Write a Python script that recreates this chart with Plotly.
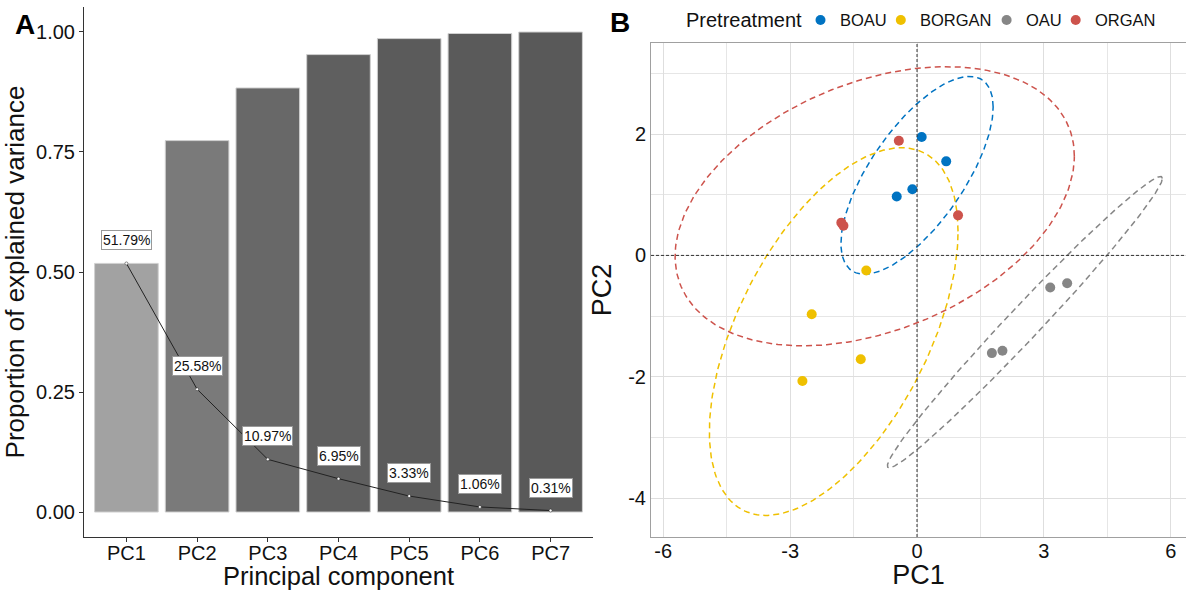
import numpy as np
import plotly.graph_objects as go

# ---------------- Panel A data ----------------
components = ["PC1", "PC2", "PC3", "PC4", "PC5", "PC6", "PC7"]
explained = [0.5179, 0.2558, 0.1097, 0.0695, 0.0333, 0.0106, 0.0031]
explained_labels = ["51.79%", "25.58%", "10.97%", "6.95%", "3.33%", "1.06%", "0.31%"]
cumulative = list(np.cumsum(explained))
bar_colors = ["#a2a2a2", "#7a7a7a", "#686868", "#5f5f5f", "#5b5b5b", "#5a5a5a", "#595959"]

# ---------------- Panel B data ----------------
groups = ["BOAU", "BORGAN", "OAU", "ORGAN"]
group_colors = ["#0073C2", "#EFC000", "#868686", "#CD534C"]
boau_pc1 = [0.11, 0.69, -0.11, -0.48]
boau_pc2 = [1.95, 1.55, 1.09, 0.97]
borgan_pc1 = [-1.20, -2.49, -1.33, -2.71]
borgan_pc2 = [-0.25, -0.97, -1.71, -2.07]
oau_pc1 = [3.15, 3.55, 1.77, 2.02]
oau_pc2 = [-0.53, -0.46, -1.61, -1.57]
organ_pc1 = [-0.43, 0.97, -1.79, -1.74]
organ_pc2 = [1.89, 0.66, 0.54, 0.49]

# ellipse estimates: centre x, centre y, half-width x, half-height y, correlation
boau_ellipse = [0.00, 1.32, 1.80, 1.63, 0.69]
borgan_ellipse = [-1.97, -1.255, 2.94, 3.03, 0.545]
oau_ellipse = [2.55, -1.10, 3.25, 2.40, 0.9866]
organ_ellipse = [-1.00, 0.81, 4.72, 2.30, 0.359]

pc1_list = [boau_pc1, borgan_pc1, oau_pc1, organ_pc1]
pc2_list = [boau_pc2, borgan_pc2, oau_pc2, organ_pc2]
ellipses = [boau_ellipse, borgan_ellipse, oau_ellipse, organ_ellipse]

# legend layout (pixel positions of the reference legend)
legend_title = "Pretreatment"
legend_dot_x = [820.5, 900.8, 1006.6, 1075.7]
legend_text_x = [838.4, 918.4, 1024.0, 1093.3]
legend_y = 20

FONT = "Liberation Sans, Arial, sans-serif"
W, H = 1186, 590
fig = go.Figure()

# Panel A bars
fig.add_trace(go.Bar(
    x=components, y=cumulative, marker=dict(color=bar_colors, line=dict(color="#d0d0d0", width=1)),
    xaxis="x", yaxis="y", showlegend=False, hoverinfo="x+y"))
fig.add_trace(go.Scatter(
    x=components, y=explained, mode="lines+markers",
    line=dict(color="#222", width=1),
    marker=dict(size=3, color="white", line=dict(color="#222", width=0.5)),
    xaxis="x", yaxis="y", showlegend=False))
for c, v, lab in zip(components, explained, explained_labels):
    fig.add_annotation(x=c, y=v + 0.048, xref="x", yref="y", text=lab, showarrow=False,
                       font=dict(family=FONT, size=14, color="#111"),
                       bgcolor="white", bordercolor="#999", borderwidth=1, borderpad=1)

# Panel B ellipses
t = np.linspace(0, 2 * np.pi, 240)
for g, col, e in zip(groups, group_colors, ellipses):
    cx, cy, wx, wy, rho = e
    ex = cx + wx * np.cos(t)
    ey = cy + wy * (rho * np.cos(t) + np.sqrt(1 - rho ** 2) * np.sin(t))
    fig.add_trace(go.Scatter(x=ex, y=ey, mode="lines", line=dict(color=col, width=1.5, dash="6px,4px"),
                             xaxis="x2", yaxis="y2", showlegend=False, legendgroup=g, hoverinfo="skip"))

# Panel B points
for g, col, px, py in zip(groups, group_colors, pc1_list, pc2_list):
    fig.add_trace(go.Scatter(x=px, y=py, mode="markers", name=g, legendgroup=g,
                             marker=dict(color=col, size=10), showlegend=False,
                             xaxis="x2", yaxis="y2"))

# legend (drawn in an overlay pixel-coordinate axis)
fig.add_trace(go.Scatter(x=legend_dot_x, y=[legend_y] * 4, mode="markers",
                         marker=dict(color=group_colors, size=10), xaxis="x3", yaxis="y3",
                         showlegend=False, hoverinfo="skip"))
fig.add_annotation(x=684, y=legend_y, xref="x3", yref="y3", text=legend_title, showarrow=False,
                   xanchor="left", yanchor="middle", font=dict(family=FONT, size=20, color="#111"))
for g, tx in zip(groups, legend_text_x):
    fig.add_annotation(x=tx, y=legend_y, xref="x3", yref="y3", text=g, showarrow=False,
                       xanchor="left", yanchor="middle", font=dict(family=FONT, size=16.5, color="#111"))

# zero reference lines
fig.add_shape(type="line", xref="x2", yref="paper", x0=0, x1=0, y0=53 / H, y1=547 / H,
              line=dict(color="#333", width=1, dash="3px,2px"))
fig.add_shape(type="line", xref="paper", yref="y2", x0=651 / W, x1=1.0, y0=0, y1=0,
              line=dict(color="#333", width=1, dash="3px,2px"))

# Panel letters
fig.add_annotation(x=25, y=24, xref="x3", yref="y3", text="<b>A</b>",
                   showarrow=False, font=dict(family=FONT, size=28, color="black"))
fig.add_annotation(x=620, y=22, xref="x3", yref="y3", text="<b>B</b>",
                   showarrow=False, font=dict(family=FONT, size=28, color="black"))

tickfont = dict(family=FONT, size=20, color="#111")
titlefont = dict(family=FONT, size=25.5, color="#111")

fig.update_layout(
    width=W, height=H, margin=dict(l=0, r=0, t=0, b=0),
    paper_bgcolor="white", plot_bgcolor="rgba(0,0,0,0)",
    bargap=0.1,
    xaxis=dict(domain=[84 / W, 593 / W], anchor="y", type="category", range=[-0.6, 6.6],
               showline=True, linecolor="#333", linewidth=1, ticks="outside", ticklen=4,
               tickcolor="#333", showgrid=False, tickfont=tickfont, ticklabelstandoff=-6,
               title=dict(text="Principal component", font=titlefont, standoff=2)),
    yaxis=dict(domain=[53 / H, 583 / H], anchor="x", range=[-0.052, 1.052],
               tickvals=[0, 0.25, 0.5, 0.75, 1.0], ticktext=["0.00", "0.25", "0.50", "0.75", "1.00"],
               showline=True, linecolor="#333", linewidth=1, ticks="outside", ticklen=4,
               tickcolor="#333", showgrid=False, zeroline=False, tickfont=tickfont,
               title=dict(text="Proportion of explained variance", font=dict(family=FONT, size=26, color="#111"),
                          standoff=4)),
    xaxis2=dict(domain=[651 / W, 1.0], anchor="y2", range=[-6.29, 6.36],
                tickvals=[-6, -3, 0, 3, 6], ticktext=["-6", "-3", "0", "3", "6"],
                showline=True, mirror=True, linecolor="#a0a0a0", linewidth=1,
                showgrid=True, gridcolor="#dedede", gridwidth=1, zeroline=False,
                minor=dict(tickvals=[-4.5, -1.5, 1.5, 4.5], showgrid=True, gridcolor="#e6e6e6", gridwidth=1),
                ticks="", tickfont=tickfont, ticklabelstandoff=-4,
                title=dict(text="PC1", font=dict(family=FONT, size=27, color="#111"), standoff=2)),
    yaxis2=dict(domain=[53 / H, 547 / H], anchor="x2", range=[-4.64, 3.50],
                tickvals=[-4, -2, 0, 2], ticktext=["-4", "-2", "0", "2"],
                showline=True, mirror=False, linecolor="#a0a0a0", linewidth=1,
                showgrid=True, gridcolor="#dedede", gridwidth=1, zeroline=False,
                minor=dict(tickvals=[-3, -1, 1, 3], showgrid=True, gridcolor="#e6e6e6", gridwidth=1),
                ticks="", tickfont=tickfont,
                title=dict(text="PC2", font=dict(family=FONT, size=27, color="#111"), standoff=8)),
    xaxis3=dict(domain=[0, 1], range=[0, W], visible=False, fixedrange=True, anchor="y3"),
    yaxis3=dict(domain=[0, 1], range=[H, 0], visible=False, fixedrange=True, anchor="x3"),
    showlegend=False,
)

fig.write_html("out.html", config={"displayModeBar": False},
               post_script="document.body.style.margin='0';document.body.style.padding='0';")
